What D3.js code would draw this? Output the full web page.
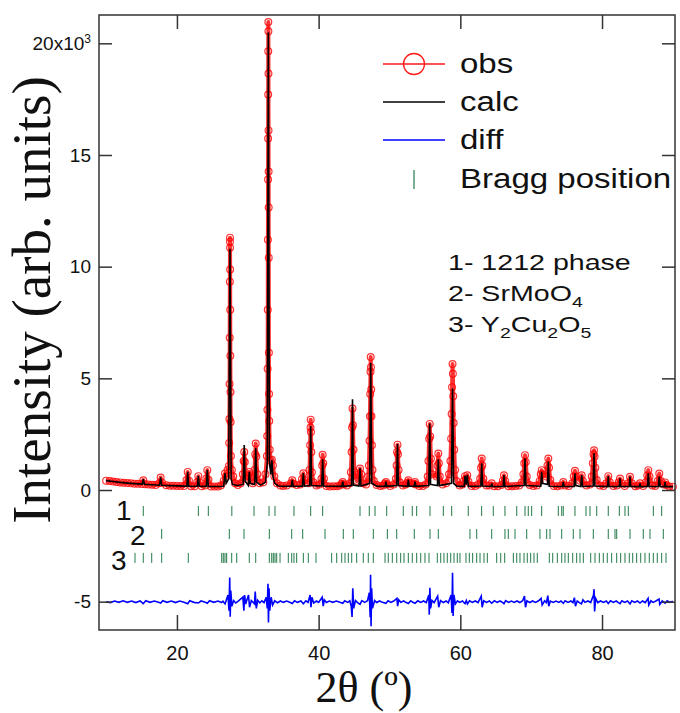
<!DOCTYPE html>
<html>
<head>
<meta charset="utf-8" />
<title>Rietveld refinement</title>
<script src="https://d3js.org/d3.v7.min.js"></script>
<style>
  body { margin: 0; background: #fff; }
  text { font-family: "Liberation Sans", Arial, sans-serif; fill: #111; }
</style>
</head>
<body>
<script>

// observed profile [2theta, counts]
var obsData = [
  [10.0,420],[10.5,400],[11.0,380],[11.5,360],[12.0,340],[12.5,325],[13.0,310],[13.5,297],[14.0,285],[14.5,275],[15.0,265],
  [15.25,440],[15.5,255],[16.0,245],[16.5,235],[17.0,225],[17.5,300],[17.7,560],[17.9,330],
  [18.5,210],[19.0,195],[19.5,190],[20.0,185],[20.5,180],[21.0,175],
  [21.35,450],[21.52,810],[21.7,420],[22.0,170],[22.5,168],
  [22.85,350],[23.02,620],[23.2,330],[23.5,165],[24.0,200],
  [24.15,520],[24.29,890],[24.45,460],[24.8,160],[25.3,158],[25.8,160],[26.2,200],
  [26.6,420],[26.78,740],[26.95,600],[27.15,900],
  [27.34,1080],[27.38,2110],[27.41,3180],[27.43,4750],[27.45,6820],[27.47,9330],[27.485,11120],[27.49,11300],
  [27.5,10850],[27.51,9870],[27.52,8070],[27.54,6010],[27.56,4390],[27.58,3050],[27.62,1520],[27.75,900],[27.95,600],
  [28.2,300],[28.6,220],[29.0,300],
  [29.3,700],[29.42,1300],[29.5,1700],[29.58,1250],[29.8,500],[30.05,650],[30.21,810],[30.35,560],
  [30.7,300],[30.95,900],[31.05,1600],[31.12,2080],[31.2,1500],[31.35,700],
  [31.7,300],[32.2,350],[32.5,700],
  [32.7,1520],[32.74,2420],[32.77,3590],[32.8,5430],[32.82,8070],[32.84,11210],[32.86,13900],[32.87,15740],[32.88,17710],[32.89,19640],[32.9,20955],
  [32.91,20540],[32.92,18650],[32.93,16100],[32.94,14260],[32.95,12650],[32.96,10400],[32.98,6140],[33.0,4300],[33.03,3090],[33.1,1800],
  [33.25,1300],[33.4,1350],[33.55,1100],[33.75,600],
  [34.1,300],[34.6,200],[35.0,180],[35.5,200],
  [36.1,300],[36.28,440],[36.45,280],[36.9,220],[37.4,250],
  [37.65,480],[37.84,750],[38.0,450],
  [38.6,300],[38.72,900],[38.8,2000],[38.85,2800],[38.88,3150],[38.92,2600],[38.97,1700],[39.05,800],[39.25,350],
  [39.7,200],[40.1,250],
  [40.4,500],[40.5,1100],[40.57,1580],[40.65,1200],[40.75,500],
  [41.1,180],[41.6,160],[42.1,170],[42.6,170],[43.0,200],
  [43.25,280],[43.4,360],[43.55,260],[44.0,200],[44.4,300],
  [44.55,800],[44.65,1700],[44.72,2800],[44.78,3650],[44.84,2900],[44.92,1800],[45.05,800],
  [45.4,400],[45.65,700],[45.84,960],[46.0,700],[46.25,300],
  [46.7,250],[47.0,600],
  [47.1,1100],[47.18,2200],[47.24,3300],[47.28,4300],[47.32,5300],[47.35,5950],[47.38,5500],[47.42,4500],[47.46,3300],[47.52,2000],[47.6,900],[47.8,400],
  [48.2,220],[48.7,180],[49.1,200],
  [49.35,290],[49.5,360],[49.65,260],[50.1,180],[50.6,250],
  [50.9,500],[51.0,1100],[51.07,1700],[51.13,2030],[51.2,1600],[51.28,900],[51.45,350],
  [51.9,200],[52.3,250],
  [52.5,330],[52.66,440],[52.8,320],
  [53.45,280],[53.6,360],[53.75,250],
  [54.2,180],[54.7,180],[55.1,250],
  [55.4,600],[55.5,1300],[55.6,2300],[55.68,2960],[55.75,2400],[55.85,1400],[56.0,700],
  [56.65,600],[56.78,1100],[56.89,1630],[56.97,1200],[57.1,600],
  [57.5,250],[58.0,300],[58.4,700],
  [58.6,1300],[58.7,2300],[58.77,3400],[58.83,4600],[58.9,5640],[58.95,5200],[59.0,4200],[59.06,3000],[59.14,1800],[59.25,900],[59.45,400],
  [59.9,200],[60.3,250],
  [60.5,400],[60.66,620],[60.82,500],[60.98,660],[61.15,380],
  [61.6,180],[62.1,180],[62.5,250],
  [62.8,500],[62.92,1000],[63.02,1410],[63.1,1100],[63.25,500],
  [63.7,200],[64.1,200],[64.43,300],[64.8,170],[65.3,170],[65.8,220],
  [66.0,420],[66.16,660],[66.32,400],
  [66.8,170],[67.3,170],[67.8,180],[68.3,200],[68.7,350],
  [68.9,700],[69.02,1200],[69.13,1560],[69.24,1250],[69.38,600],
  [69.8,220],[70.3,180],[70.8,200],[71.2,400],
  [71.35,700],[71.48,890],[71.62,700],
  [72.15,600],[72.3,1100],[72.42,1410],[72.52,1000],[72.7,450],
  [73.2,180],[73.7,170],[74.2,200],[74.53,360],[74.8,200],
  [75.3,180],[75.8,300],
  [76.0,600],[76.18,860],[76.35,600],
  [76.9,420],[77.13,660],[77.3,400],
  [77.8,200],[78.3,250],
  [78.55,600],[78.7,1200],[78.8,1600],[78.87,1780],[78.95,1500],[79.05,1000],[79.25,450],
  [79.7,200],[80.2,180],[80.6,300],[80.88,620],[81.1,350],
  [81.6,180],[82.1,200],[82.35,350],[82.54,510],[82.75,300],
  [83.2,180],[83.7,300],[83.95,590],[84.2,300],
  [84.7,170],[85.1,200],[85.36,300],
  [85.8,180],[86.2,350],[86.38,650],[86.53,890],[86.7,600],
  [87.1,200],[87.5,180],[87.85,400],[88.08,740],[88.3,400],
  [88.7,250],[88.9,340],[89.1,220],[89.5,160],[90.0,150]
];

// calculated profile [2theta, counts]
var calcData = [
  [10,420],[11,380],[12,340],[13,310],[14,285],[15.1,265],[15.25,480],[15.4,260],[16,245],[17,225],
  [17.55,215],[17.7,570],[17.85,210],[19,195],[20,185],[21,175],[21.4,172],[21.52,820],[21.65,170],
  [22.9,166],[23.02,630],[23.15,165],[24.15,162],[24.29,900],[24.43,160],[25,158],[26,155],
  [26.6,170],[26.78,760],[26.95,300],[27.3,500],[27.49,10800],[27.65,500],[27.85,250],[28.5,200],
  [29.35,250],[29.5,2010],[29.62,400],[30.08,200],[30.21,820],[30.34,300],[30.98,250],[31.12,1880],[31.25,350],
  [31.8,220],[32.5,350],[32.75,1200],[32.9,20500],[33.05,1300],[33.25,700],[33.4,1340],[33.55,600],[33.8,300],
  [34.3,180],[35,170],[36.15,175],[36.28,450],[36.4,170],[37.7,170],[37.84,760],[37.98,170],
  [38.75,200],[38.88,2870],[39.0,200],[40.45,180],[40.57,1380],[40.7,180],[43.28,165],[43.4,370],[43.52,165],
  [44.65,200],[44.78,4060],[44.9,220],[45.7,180],[45.84,970],[45.98,180],[47.2,300],[47.35,5700],[47.5,300],
  [48.2,170],[49.38,165],[49.5,370],[49.62,165],[51.0,200],[51.13,2060],[51.26,200],
  [52.54,165],[52.66,450],[52.78,165],[53.48,165],[53.6,370],[53.72,165],
  [55.55,200],[55.68,2980],[55.8,250],[56.77,200],[56.89,1380],[57.02,200],
  [58.75,300],[58.9,4550],[59.05,300],[59.5,170],[60.54,165],[60.66,630],[60.8,250],[60.98,670],[61.12,165],
  [62.9,180],[63.02,1200],[63.14,180],[64.33,160],[64.43,300],[64.53,160],[66.04,160],[66.16,670],[66.28,160],
  [69.0,200],[69.13,1420],[69.26,200],[71.36,170],[71.48,820],[71.6,300],[72.3,250],[72.42,1270],[72.55,170],
  [74.43,155],[74.53,370],[74.63,155],[76.06,160],[76.18,750],[76.3,200],[77.0,160],[77.13,670],[77.25,160],
  [78.75,180],[78.87,1640],[78.99,180],[80.78,155],[80.88,630],[80.98,155],[82.44,155],[82.54,520],[82.64,155],
  [83.85,155],[83.95,600],[84.05,155],[85.28,150],[85.36,300],[85.44,150],[86.41,160],[86.53,750],[86.65,160],
  [87.96,160],[88.08,600],[88.2,160],[88.82,150],[88.9,350],[88.98,150],[90,150]
];

// obs - calc [2theta, counts], drawn shifted down
var diffData = [
  [10,0],[10.6,-40],[11.2,30],[11.8,-30],[12.4,40],[13,-30],[13.6,30],[14.2,-40],[14.8,30],[15.25,-90],[15.6,40],[16.2,-30],
  [16.8,30],[17.4,-30],[17.7,-60],[18,40],[18.6,-30],[19.2,30],[19.8,-40],[20.4,30],[21,-30],[21.52,-90],[21.8,40],[22.4,-30],
  [23.02,-60],[23.4,30],[24,-30],[24.29,-70],[24.6,40],[25.2,-30],[25.8,30],[26.3,-40],[26.5,20],[26.8,-100],[27.2,300],[27.35,-400],
  [27.45,1080],[27.52,-670],[27.6,500],[27.75,-200],[28.0,50],[28.3,-60],[28.7,40],
  [29.3,200],[29.45,-400],[29.55,300],[29.7,-100],[30.1,300],[30.25,-250],[30.5,50],[30.95,-100],[31.05,450],[31.2,-300],[31.4,60],
  [31.7,-50],[32.0,40],[32.3,-40],[32.6,200],[32.75,-300],[32.85,800],[32.92,-930],[33.0,600],[33.1,-400],[33.3,200],[33.5,-150],
  [33.8,40],[34.2,-50],[34.6,30],[35,-30],[35.5,30],[36.0,-40],[36.28,-80],[36.6,40],[37,-30],[37.5,30],[37.84,-90],[38.2,40],
  [38.5,-30],[38.8,300],[38.92,-250],[39.05,200],[39.3,-60],[39.7,30],[40.0,-30],[40.5,200],[40.65,-200],[40.8,80],
  [41.1,-40],[41.5,30],[42.0,-30],[42.5,30],[43.0,-30],[43.4,-70],[43.7,40],[44.1,-30],[44.4,40],
  [44.6,-200],[44.72,-680],[44.82,600],[44.95,-300],[45.2,50],[45.5,-40],[45.84,-120],[46.1,50],[46.5,-30],[46.9,40],
  [47.15,400],[47.28,-700],[47.33,1200],[47.4,-1100],[47.48,600],[47.6,-300],[47.9,50],[48.2,-40],[48.6,30],[49.0,-30],
  [49.5,-70],[49.8,40],[50.2,-30],[50.6,30],
  [51.05,150],[51.15,-200],[51.3,80],[51.6,-30],[52,30],[52.3,-30],[52.66,-80],[53.0,40],[53.3,-30],[53.6,-70],[54.0,40],
  [54.4,-30],[54.8,30],[55.2,-40],
  [55.55,300],[55.62,-580],[55.7,620],[55.8,-300],[56.0,60],[56.3,-40],[56.8,250],[56.95,-250],[57.2,50],[57.6,-40],[58,30],[58.3,-50],
  [58.7,300],[58.82,-500],[58.9,1300],[58.98,-640],[59.1,300],[59.3,-100],[59.6,40],[59.9,-30],[60.3,30],[60.66,-90],[60.85,50],
  [61.0,-100],[61.3,40],[61.7,-30],[62.1,30],[62.5,-40],
  [62.95,250],[63.08,-250],[63.3,40],[63.7,-30],[64.1,30],[64.43,-70],[64.8,40],[65.2,-30],[65.6,30],[66.0,-40],[66.16,-90],
  [66.4,50],[66.8,-30],[67.2,30],[67.6,-30],[68.0,30],[68.4,-40],[68.8,40],
  [69.05,250],[69.2,-250],[69.4,40],[69.8,-40],[70.2,30],[70.6,-30],[71.0,30],
  [71.4,150],[71.55,-150],[71.9,40],[72.15,-40],[72.35,270],[72.48,-200],[72.7,30],[73.1,-30],[73.5,30],[73.9,-30],[74.2,30],
  [74.53,-70],[74.8,40],[75.2,-30],[75.6,30],[75.9,-40],
  [76.1,180],[76.25,-200],[76.5,30],[76.8,-40],[77.1,-100],[77.3,80],[77.6,-30],[78,30],[78.4,-40],
  [78.8,300],[78.87,560],[78.95,-440],[79.1,150],[79.4,-40],[79.8,30],[80.2,-30],[80.6,30],[80.88,-80],[81.2,40],[81.6,-30],
  [82.0,30],[82.3,-40],[82.54,-90],[82.8,40],[83.2,-30],[83.6,30],[83.95,-100],[84.2,40],[84.6,-30],[85.0,30],[85.36,-60],
  [85.7,30],[86.1,-40],[86.5,150],[86.6,-150],[86.9,40],[87.2,-30],[87.6,30],
  [88.05,120],[88.15,-120],[88.5,30],[88.9,-70],[89.2,40],[89.6,-30],[90,20]
];

// Bragg reflections (2theta) for each phase
var bragg1 = [15.25,23.02,24.43,27.75,30.88,33.0,33.84,36.52,38.88,40.57,45.84,47.15,47.96,49.61,51.95,53.22,53.84,55.72,57.6,58.78,
  61.12,63.01,64.65,66.3,67.96,69.13,69.59,70.07,71.48,73.83,74.31,74.53,76.18,77.74,78.3,79.25,80.88,82.44,83.24,83.71,87.24,88.42];
var bragg2 = [17.85,27.39,29.47,33.04,36.2,37.75,40.9,43.48,44.89,47.72,49.7,51.02,53.5,55.72,56.89,61.36,62.31,64.43,66.3,66.77,
  67.72,69.37,71.24,72.19,72.66,74.31,75.94,76.89,78.77,80.88,81.83,82.07,83.95,85.82,86.77,88.65];
var bragg3 = [14.08,15.25,16.44,17.85,21.6,26.32,26.54,26.78,27.02,27.73,28.44,30.21,31.12,33.04,33.38,33.6,33.84,34.08,34.55,35.72,
  36.2,36.52,36.9,37.84,38.54,39.63,41.84,42.55,43.26,43.72,44.19,44.67,45.37,46.3,47.01,47.72,49.37,49.83,50.4,51.02,51.58,52.05,
  52.66,53.22,53.84,54.41,55.01,55.58,56.75,57.23,57.69,58.16,58.64,59.11,59.57,59.95,60.8,61.27,61.74,62.31,62.78,63.34,63.81,
  65.13,65.7,66.26,67.48,67.96,68.42,68.99,69.45,69.93,70.4,70.86,72.56,73.04,73.69,74.31,74.77,75.24,75.86,76.42,76.89,77.36,
  78.4,79.01,79.62,80.18,80.74,81.36,82.07,82.63,83.24,83.85,84.33,84.89,85.46,86.06,86.67,87.24,87.8,88.42,89.03];

var xTicks = [20, 40, 60, 80];
var yTicks = [-5000, 0, 5000, 10000, 15000, 20000];
var legendLabels = ["obs", "calc", "diff", "Bragg position"];

var w = 680, h = 713;
var mLeft = 99, mRight = 675, mTop = 15, mBottom = 630;
var diffOffset = -5000;
var braggRows = [-940, -1970, -3040];

var xScale = d3.scaleLinear().domain([9, 90.3]).range([mLeft, mRight]);
var yScale = d3.scaleLinear().domain([-6268, 21268]).range([mBottom, mTop]);

var svg = d3.select("body").append("svg")
    .attr("width", w)
    .attr("height", h);

// observed: red line + open circles
var line = d3.line().x(function (d) { return xScale(d[0]); }).y(function (d) { return yScale(d[1]); });

svg.append("path")
    .datum(obsData)
    .attr("d", line)
    .attr("fill", "none")
    .attr("stroke", "#ff0000")
    .attr("stroke-opacity", 0.8)
    .attr("stroke-linejoin", "round")
    .attr("stroke-width", 4);

svg.append("g")
    .selectAll("circle")
    .data(obsData)
    .enter()
    .append("circle")
    .attr("cx", function (d) { return xScale(d[0]); })
    .attr("cy", function (d) { return yScale(d[1]); })
    .attr("r", 3.4)
    .attr("fill", "none")
    .attr("stroke", "#ff0000")
    .attr("stroke-opacity", 0.8)
    .attr("stroke-width", 1.2);

// calc
svg.append("path")
    .datum(calcData)
    .attr("d", line)
    .attr("fill", "none")
    .attr("stroke", "#000")
    .attr("stroke-width", 1.6);

// diff
svg.append("path")
    .datum(diffData)
    .attr("d", d3.line().x(function (d) { return xScale(d[0]); }).y(function (d) { return yScale(d[1] + diffOffset); }))
    .attr("fill", "none")
    .attr("stroke", "#0000ff")
    .attr("stroke-width", 1.6);

// bragg ticks
[bragg1, bragg2, bragg3].forEach(function (list, i) {
    svg.append("g")
        .selectAll("line")
        .data(list)
        .enter()
        .append("line")
        .attr("x1", function (d) { return xScale(d); })
        .attr("x2", function (d) { return xScale(d); })
        .attr("y1", yScale(braggRows[i]) - 5)
        .attr("y2", yScale(braggRows[i]) + 5)
        .attr("stroke", "#237a48")
        .attr("stroke-width", 1);
});

// axes
var xAxis = d3.axisBottom(xScale).tickValues(xTicks).tickSizeInner(-15).tickSizeOuter(0).tickPadding(16);
var gx = svg.append("g").attr("transform", "translate(0," + mBottom + ")").call(xAxis);

var gxt = svg.append("g").attr("transform", "translate(0," + mTop + ")")
    .call(d3.axisTop(xScale).tickValues(xTicks).tickSizeInner(-14).tickSizeOuter(0).tickFormat(""));

var yAxis = d3.axisLeft(yScale).tickValues(yTicks).tickSizeInner(-13).tickSizeOuter(0).tickPadding(8)
    .tickFormat(function (d) { return d === 20000 ? "20x10" : d / 1000; });
var gy = svg.append("g").attr("transform", "translate(" + mLeft + ",0)").call(yAxis);
gy.selectAll(".tick").filter(function (d) { return d === 20000; }).select("text")
    .append("tspan").attr("dy", "-0.55em").style("font-size", "12px").text("3");

var gyr = svg.append("g").attr("transform", "translate(" + mRight + ",0)")
    .call(d3.axisRight(yScale).tickValues(yTicks).tickSizeInner(-13).tickSizeOuter(0).tickFormat(""));

[gx, gxt, gy, gyr].forEach(function (g) {
    g.attr("font-family", null).attr("font-size", null);
    g.select(".domain").remove();
    g.selectAll("line").attr("stroke", "#333").attr("stroke-width", 1.5);
    g.selectAll("text").attr("fill", "#111");
});
gx.selectAll("text").style("font-size", "20px");
gy.selectAll(".tick > text").style("font-size", "19px");

// frame
svg.append("rect")
    .attr("x", mLeft).attr("y", mTop)
    .attr("width", mRight - mLeft).attr("height", mBottom - mTop)
    .attr("fill", "none").attr("stroke", "#333").attr("stroke-width", 1.5);

// axis titles
svg.append("text")
    .attr("transform", "translate(50,300) rotate(-90)")
    .attr("text-anchor", "middle")
    .style("font-family", "'Liberation Serif', 'Times New Roman', serif")
    .style("font-size", "55px")
    .text("Intensity (arb. units)");

svg.append("text")
    .attr("x", 364).attr("y", 702)
    .attr("text-anchor", "middle")
    .style("font-family", "'Liberation Serif', 'Times New Roman', serif")
    .style("font-size", "44px")
    .text("2\u03b8 (\u00ba)");

// legend
var legY = [64, 102, 140, 179];
var leg = svg.append("g");
leg.append("line").attr("x1", 383).attr("x2", 445).attr("y1", legY[0]).attr("y2", legY[0]).attr("stroke", "#ff1a1a").attr("stroke-width", 1.5);
leg.append("circle").attr("cx", 414).attr("cy", legY[0]).attr("r", 10.5).attr("fill", "none").attr("stroke", "#ff1a1a").attr("stroke-width", 1.3);
leg.append("line").attr("x1", 383).attr("x2", 445).attr("y1", legY[1]).attr("y2", legY[1]).attr("stroke", "#000").attr("stroke-width", 1.5);
leg.append("line").attr("x1", 383).attr("x2", 445).attr("y1", legY[2]).attr("y2", legY[2]).attr("stroke", "#0000ff").attr("stroke-width", 1.5);
leg.append("line").attr("x1", 414).attr("x2", 414).attr("y1", legY[3] - 9).attr("y2", legY[3] + 10).attr("stroke", "#237a48").attr("stroke-width", 1.2);
legendLabels.forEach(function (t, i) {
    leg.append("text")
        .attr("transform", "translate(460," + (legY[i] + 9) + ") scale(1.18,1)")
        .style("font-size", "28px")
        .text(t);
});

// phase labels
var phases = svg.append("g").style("font-size", "22px");
phases.append("text").attr("transform", "translate(448,270) scale(1.3,1)").text("1- 1212 phase");
var p2 = phases.append("text").attr("transform", "translate(448,301) scale(1.3,1)");
p2.append("tspan").text("2- SrMoO");
p2.append("tspan").attr("dy", 6).style("font-size", "15px").text("4");
var p3 = phases.append("text").attr("transform", "translate(448,332) scale(1.3,1)");
p3.append("tspan").text("3- Y");
p3.append("tspan").attr("dy", 6).style("font-size", "15px").text("2");
p3.append("tspan").attr("dy", -6).text("Cu");
p3.append("tspan").attr("dy", 6).style("font-size", "15px").text("2");
p3.append("tspan").attr("dy", -6).text("O");
p3.append("tspan").attr("dy", 6).style("font-size", "15px").text("5");

// row numbers beside bragg ticks
var rowNums = svg.append("g").style("font-size", "28px");
rowNums.append("text").attr("x", 116).attr("y", 520).text("1");
rowNums.append("text").attr("x", 130).attr("y", 545).text("2");
rowNums.append("text").attr("x", 111).attr("y", 570).text("3");

</script>
</body>
</html>
